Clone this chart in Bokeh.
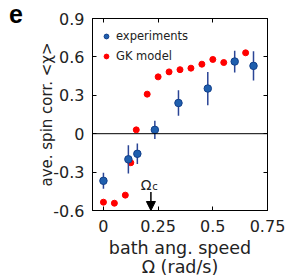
import numpy as np
from bokeh.plotting import figure
from bokeh.layouts import row
from bokeh.models import (ColumnDataSource, Range1d, FixedTicker, LinearAxis, Span, Div,
                          Arrow, NormalHead, Label, Legend, LegendItem, CustomLabelingPolicy)
from bokeh.embed import file_html
from bokeh.resources import INLINE

# ---- data ----
exp_omega = [0.0, 0.114, 0.155, 0.235, 0.343, 0.477, 0.600, 0.686]
exp_chi = [-0.368, -0.200, -0.157, 0.030, 0.240, 0.353, 0.564, 0.530]
exp_err = [0.063, 0.110, 0.080, 0.072, 0.100, 0.130, 0.085, 0.115]

gk_omega = [0.0, 0.05, 0.10, 0.125, 0.15, 0.20, 0.25, 0.30, 0.35, 0.40, 0.45, 0.50, 0.55, 0.65]
gk_chi = [-0.535, -0.543, -0.480, -0.227, 0.030, 0.309, 0.444, 0.483, 0.500, 0.512, 0.543, 0.580, 0.556, 0.632]

x_ticks = [0, 0.25, 0.5, 0.75]
x_tick_labels = ["0", "0.25", "0.5", "0.75"]
y_ticks = [-0.6, -0.3, 0, 0.3, 0.6, 0.9]
y_tick_labels = ["-0.6", "-0.3", "0", "0.3", "0.6", "0.9"]

omega_c = 0.217
arrow_top = -0.455

FONT = "DejaVu Sans"
TXT = "#222222"
BLUE_FILL = "#1f5fae"
BLUE_LINE = "#123f8a"
ERR_COLOR = "#2b4596"
RED = "#ff0000"

LEFT_W = 30
W, H = 287 - LEFT_W, 276
p = figure(width=W, height=H, frame_width=175, frame_height=192,
           x_range=Range1d(-0.05, 0.75), y_range=Range1d(-0.6, 0.9),
           output_backend="svg", toolbar_location=None,
           min_border_left=92 - LEFT_W, min_border_right=20, min_border_top=18, min_border_bottom=66)
p.grid.visible = False
p.outline_line_color = "black"
p.outline_line_width = 1
p.background_fill_color = "white"
p.border_fill_color = "white"

# bottom axis
xa = p.xaxis[0]
xa.ticker = FixedTicker(ticks=x_ticks)
xa.major_label_overrides = {t: l for t, l in zip(x_ticks, x_tick_labels)}
xa.major_tick_in = 4
xa.major_tick_out = 0
xa.minor_tick_line_color = None
xa.axis_line_color = "black"
xa.major_tick_line_color = "black"
xa.major_label_standoff = 9
xa.major_label_text_font = FONT
xa.major_label_text_font_size = "16px"
xa.major_label_text_color = TXT
xa.axis_label = "bath ang. speed\nΩ (rad/s)"
xa.axis_label_text_font = FONT
xa.axis_label_text_font_size = "17.5px"
xa.axis_label_text_font_style = "normal"
xa.axis_label_text_line_height = 0.95
xa.axis_label_text_color = TXT
xa.axis_label_standoff = 3

# left axis
ya = p.yaxis[0]
ya.ticker = FixedTicker(ticks=y_ticks)
ya.major_label_overrides = {t: l for t, l in zip(y_ticks, y_tick_labels)}
ya.major_tick_in = 4
ya.major_tick_out = 0
ya.minor_tick_line_color = None
ya.axis_line_color = "black"
ya.major_tick_line_color = "black"
ya.major_label_standoff = 8
ya.major_label_text_font = FONT
ya.major_label_text_font_size = "16px"
ya.major_label_text_color = TXT
ya.axis_label = "ave. spin corr. <χ>"
ya.axis_label_text_font = FONT
ya.axis_label_text_font_size = "15px"
ya.axis_label_text_font_style = "normal"
ya.axis_label_text_color = TXT
ya.axis_label_standoff = -6

# top and right axes (ticks only, no labels)
top = LinearAxis(ticker=FixedTicker(ticks=x_ticks),
                 major_label_policy=CustomLabelingPolicy(code="return new Set()"),
                 major_tick_in=4, major_tick_out=0, minor_tick_line_color=None,
                 major_label_standoff=0, axis_line_color="black")
right = LinearAxis(ticker=FixedTicker(ticks=y_ticks),
                   major_label_policy=CustomLabelingPolicy(code="return new Set()"),
                   major_tick_in=4, major_tick_out=0, minor_tick_line_color=None,
                   major_label_standoff=0, axis_line_color="black")
p.add_layout(top, "above")
p.add_layout(right, "right")

# zero line
p.add_layout(Span(location=0, dimension="width", line_color="black", line_width=1))

# data
exp_src = ColumnDataSource(dict(
    x=exp_omega, y=exp_chi,
    lo=[c - e for c, e in zip(exp_chi, exp_err)],
    hi=[c + e for c, e in zip(exp_chi, exp_err)]))
gk_src = ColumnDataSource(dict(x=gk_omega, y=gk_chi))

red_r = p.scatter("x", "y", source=gk_src, size=6, fill_color=RED, line_color=RED)
p.segment(x0="x", y0="lo", x1="x", y1="hi", source=exp_src, line_color=ERR_COLOR, line_width=1.5)
blue_r = p.scatter("x", "y", source=exp_src, size=7.5, fill_color=BLUE_FILL,
                   line_color=BLUE_LINE, line_width=1)
dash_r = p.scatter(x=[], y=[], marker="dash", angle=np.pi / 2, size=11,
                   line_color=ERR_COLOR, line_width=1.5)

legend = Legend(items=[LegendItem(label="experiments", renderers=[dash_r, blue_r]),
                       LegendItem(label="GK model", renderers=[red_r])],
                location="top_left", margin=4, padding=4, glyph_width=12, glyph_height=20,
                label_height=20, label_standoff=4, spacing=0,
                background_fill_alpha=0, border_line_alpha=0,
                label_text_font=FONT, label_text_font_size="11.5px", label_text_color=TXT)
p.add_layout(legend)

# Omega_c annotation
p.add_layout(Arrow(end=NormalHead(size=9, fill_color="black", line_color="black"),
                   x_start=omega_c, y_start=arrow_top, x_end=omega_c, y_end=-0.6,
                   line_color="black", line_width=1.5))
p.add_layout(Label(x=0.171, y=-0.397, text="Ω", text_font=FONT, text_font_size="14px",
                   text_color=TXT, text_baseline="alphabetic", text_align="left"))
p.add_layout(Label(x=0.223, y=-0.412, text="c", text_font=FONT, text_font_size="10px",
                   text_color=TXT, text_baseline="alphabetic", text_align="left"))

# panel letter
panel_letter = Div(
    text="<div style=\"margin-left:9px; font-family:'Liberation Sans', Arial, sans-serif; "
         "font-weight:bold; font-size:25px; line-height:28px; color:black;\">e</div>",
    width=LEFT_W, height=40, margin=(0, 0, 0, 0))

layout = row(panel_letter, p, spacing=0)
open("out.html", "w").write(file_html(layout, INLINE))
